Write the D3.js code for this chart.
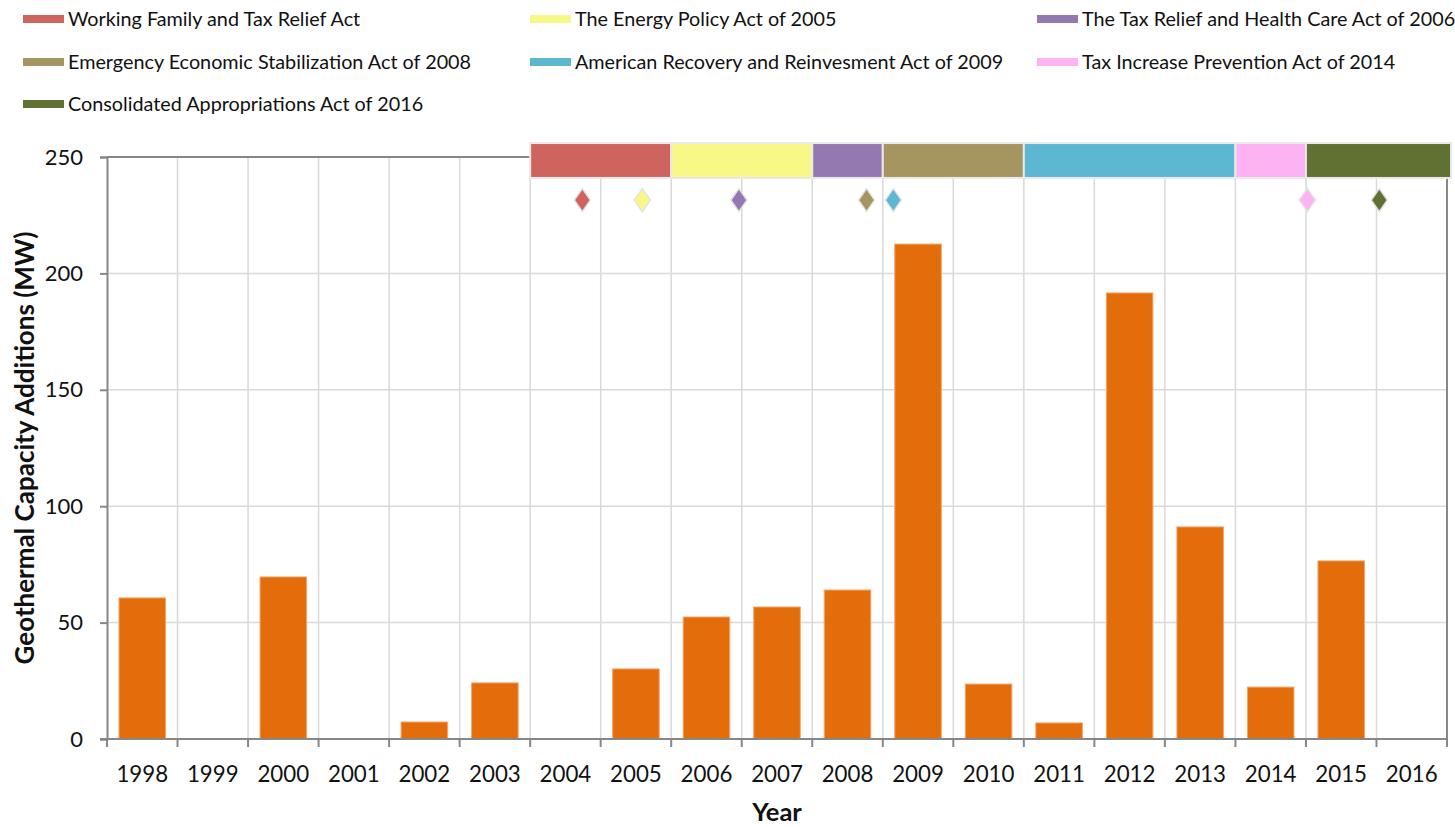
<!DOCTYPE html>
<html>
<head>
<meta charset="utf-8">
<script src="https://cdn.jsdelivr.net/npm/d3@7"></script>
<style>
  html, body { margin: 0; padding: 0; background: #fff; }
  svg { display: block; font-family: Lato, "Open Sans", sans-serif; }
</style>
</head>
<body>
<svg id="chart" width="1455" height="827"></svg>
<script>
// Annual geothermal capacity additions (MW)
const years = [1998, 1999, 2000, 2001, 2002, 2003, 2004, 2005, 2006, 2007,
               2008, 2009, 2010, 2011, 2012, 2013, 2014, 2015, 2016];
const additions = [60.6, 0, 69.6, 0, 7.3, 24.1, 0, 30.1, 52.4, 56.7,
                   64.0, 212.6, 23.6, 6.9, 191.6, 91.1, 22.3, 76.5, 0];

// Federal policies: name, colour, coverage period (start/end year), enactment date (decimal year)
const policyNames = [
  "Working Family and Tax Relief Act",
  "The Energy Policy Act of 2005",
  "The Tax Relief and Health Care Act of 2006",
  "Emergency Economic Stabilization Act of 2008",
  "American Recovery and Reinvesment Act of 2009",
  "Tax Increase Prevention Act of 2014",
  "Consolidated Appropriations Act of 2016"
];
const policyColors = ["#cf645e", "#f8f887", "#9479b0", "#a59561", "#5bb8d0", "#fdb2f4", "#617134"];
const policyStart = [2004, 2006, 2008, 2009, 2011, 2014, 2015];
const policyEnd   = [2006, 2008, 2009, 2011, 2014, 2015, 2017];
const policyEnacted = [2004.74, 2005.59, 2006.96, 2008.77, 2009.15, 2015.02, 2016.04];

const yTicks = [0, 50, 100, 150, 200, 250];

const svg = d3.select("#chart");
const margin = { left: 107, right: 8, top: 157, bottom: 88 };
const W = 1455, H = 827;
const plotW = W - margin.left - margin.right;
const plotH = H - margin.top - margin.bottom;

// Continuous year scale so policy dates can fall between categories
const x = d3.scaleLinear().domain([1998, 2017]).range([margin.left, margin.left + plotW]);
const band = d3.scaleBand().domain(years).range([margin.left, margin.left + plotW]).paddingInner(0.34).paddingOuter(0.17);
const y = d3.scaleLinear().domain([0, 250]).range([margin.top + plotH, margin.top]);

const axisColor = "#878787";
const gridColor = "#d9d9d9";

// Horizontal gridlines
svg.append("g").selectAll("line").data(yTicks.filter(d => d > 0)).join("line")
  .attr("x1", x(1998)).attr("x2", x(2017))
  .attr("y1", d => y(d)).attr("y2", d => y(d))
  .attr("stroke", gridColor).attr("stroke-width", 1.5);

// Vertical gridlines at category boundaries
svg.append("g").selectAll("line").data(d3.range(1999, 2017)).join("line")
  .attr("x1", d => x(d)).attr("x2", d => x(d))
  .attr("y1", y(0)).attr("y2", y(250))
  .attr("stroke", gridColor).attr("stroke-width", 1.5);

// Plot-area frame (top and right)
svg.append("path")
  .attr("d", `M${x(1998)},${y(250)}H${x(2017)}V${y(0)}`)
  .attr("fill", "none").attr("stroke", axisColor).attr("stroke-width", 2);

// Bars
svg.append("g").selectAll("rect").data(years.map((yr, i) => ({ yr, v: additions[i] })).filter(d => d.v > 0)).join("rect")
  .attr("x", d => band(d.yr))
  .attr("width", band.bandwidth())
  .attr("y", d => y(d.v))
  .attr("height", d => y(0) - y(d.v))
  .attr("fill", "#e36c0b")
  .attr("stroke", "#f3a56b").attr("stroke-width", 1);

// Y axis
const yAxis = svg.append("g").attr("transform", `translate(${x(1998)},0)`)
  .call(d3.axisLeft(y).tickValues(yTicks).tickSize(7).tickPadding(17));
yAxis.select(".domain").attr("stroke", axisColor).attr("stroke-width", 2);
yAxis.selectAll(".tick line").attr("stroke", axisColor).attr("stroke-width", 2);
yAxis.selectAll(".tick text").attr("font-size", 22).attr("fill", "#111").attr("font-family", "Lato, sans-serif");

// X axis: ticks on boundaries, labels centred in each year
const xAxis = svg.append("g").attr("transform", `translate(0,${y(0)})`);
xAxis.append("line").attr("x1", x(1998) - 7).attr("x2", x(2017) + 1)
  .attr("stroke", axisColor).attr("stroke-width", 2);
xAxis.selectAll("line.tk").data(d3.range(1998, 2018)).join("line").attr("class", "tk")
  .attr("x1", d => x(d)).attr("x2", d => x(d)).attr("y1", 0).attr("y2", 8)
  .attr("stroke", axisColor).attr("stroke-width", 2);
xAxis.selectAll("text").data(years).join("text")
  .attr("x", d => x(d + 0.5)).attr("y", 43)
  .attr("text-anchor", "middle").attr("font-size", 22.3).attr("fill", "#111")
  .text(d => d);

// Axis titles
svg.append("text").attr("x", x(2007.5)).attr("y", H - 6)
  .attr("text-anchor", "middle").attr("font-size", 25.5).attr("font-weight", "bold").attr("fill", "#111")
  .text("Year");
svg.append("text")
  .attr("transform", `translate(34,${y(125)}) rotate(-90)`)
  .attr("text-anchor", "middle").attr("font-size", 26).attr("font-weight", "bold").attr("fill", "#111")
  .text("Geothermal Capacity Additions (MW)");

// Policy coverage strip above the plot
const policies = policyNames.map((name, i) => ({
  name, color: policyColors[i], start: policyStart[i], end: policyEnd[i], enacted: policyEnacted[i]
}));
svg.append("g").selectAll("rect").data(policies).join("rect")
  .attr("x", d => x(d.start))
  .attr("width", d => x(d.end) - x(d.start) + (d.end === 2017 ? 4 : 0))
  .attr("y", y(256))
  .attr("height", y(241) - y(256))
  .attr("fill", d => d.color)
  .attr("stroke", "#e9e9e9").attr("stroke-width", 2);

// Enactment markers
const dh = 11.5, dw = 8;
svg.append("g").selectAll("path").data(policies).join("path")
  .attr("transform", d => `translate(${x(d.enacted)},${y(231.5)})`)
  .attr("d", `M0,${-dh}L${dw},0L0,${dh}L${-dw},0Z`)
  .attr("fill", d => d.color)
  .attr("stroke", "#e2e2e2").attr("stroke-width", 1.5);

// Legend: three columns
const legend = svg.append("g").selectAll("g").data(policies).join("g")
  .attr("transform", (d, i) => `translate(${[23, 530, 1037][i % 3]},${[19, 62, 104][Math.floor(i / 3)]})`);
legend.append("rect").attr("x", 0).attr("y", -4).attr("width", 41).attr("height", 8)
  .attr("fill", d => d.color);
legend.append("text").attr("x", 45).attr("y", 7)
  .attr("font-size", 19.8).attr("fill", "#111")
  .text(d => d.name);
</script>
</body>
</html>
